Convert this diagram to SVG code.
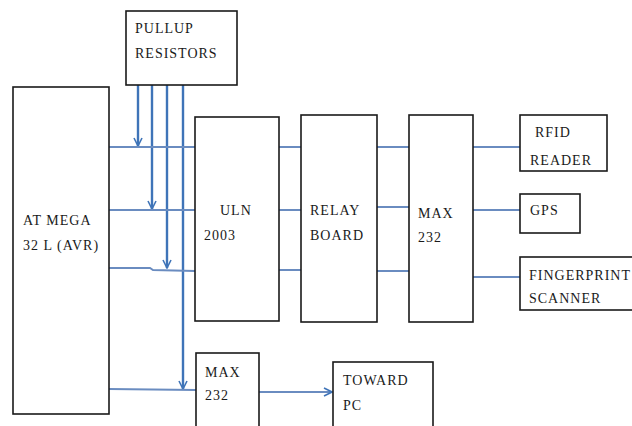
<svg xmlns="http://www.w3.org/2000/svg" width="632" height="426" viewBox="0 0 632 426">
<defs>
<style>
.box{fill:#fff;stroke:#1a1a1a;stroke-width:1.6}
.t{font-family:'Liberation Serif','DejaVu Serif',serif;font-size:14px;letter-spacing:1px;fill:#1a1a1a}
.v{stroke:#3f74b8;stroke-width:2.4;fill:none}
.h{stroke:#6a8cc0;stroke-width:2;fill:none}
</style>
<marker id="arr" viewBox="0 0 10 10" refX="9" refY="5" markerWidth="10" markerHeight="10" markerUnits="userSpaceOnUse" orient="auto">
<path d="M1,1 L9,5 L1,9" fill="none" stroke="#3f74b8" stroke-width="1.6"/>
</marker>
</defs>
<rect width="632" height="426" fill="#fff"/>
<g id="connectors">
<line class="v" x1="138" y1="85" x2="138" y2="146" marker-end="url(#arr)"/>
<line class="v" x1="152" y1="85" x2="152" y2="209" marker-end="url(#arr)"/>
<line class="v" x1="167" y1="85" x2="167" y2="268" marker-end="url(#arr)"/>
<line class="v" x1="183" y1="85" x2="183" y2="389" marker-end="url(#arr)"/>
<line class="h" x1="109" y1="147" x2="195" y2="147"/>
<line class="h" x1="109" y1="210" x2="195" y2="210"/>
<polyline class="h" points="109,268 150,268 153,270 195,271"/>
<line class="h" x1="109" y1="389" x2="196" y2="390"/>
<line class="h" x1="279" y1="147" x2="301" y2="147"/>
<line class="h" x1="279" y1="210" x2="301" y2="210"/>
<line class="h" x1="279" y1="270" x2="301" y2="270"/>
<line class="h" x1="377" y1="147" x2="409" y2="147"/>
<line class="h" x1="377" y1="207" x2="409" y2="207"/>
<line class="h" x1="377" y1="271" x2="409" y2="271"/>
<line class="h" x1="473" y1="147" x2="520" y2="147"/>
<line class="h" x1="473" y1="210" x2="520" y2="210"/>
<line class="h" x1="473" y1="277" x2="520" y2="277"/>
<line class="h" x1="259" y1="392" x2="332" y2="392" marker-end="url(#arr)"/>
</g>
<g id="pullup">
<rect class="box" x="126" y="11" width="111" height="74"/>
<text class="t" x="135" y="33">PULLUP</text>
<text class="t" x="135" y="58">RESISTORS</text>
</g>
<g id="atmega">
<rect class="box" x="13" y="87" width="96" height="327"/>
<text class="t" x="23" y="225">AT MEGA</text>
<text class="t" x="23" y="250">32 L (AVR)</text>
</g>
<g id="uln">
<rect class="box" x="195" y="117" width="84" height="204"/>
<text class="t" x="220" y="215">ULN</text>
<text class="t" x="204" y="240">2003</text>
</g>
<g id="relay">
<rect class="box" x="301" y="115" width="76" height="207"/>
<text class="t" x="310" y="215">RELAY</text>
<text class="t" x="310" y="240">BOARD</text>
</g>
<g id="max232a">
<rect class="box" x="409" y="115" width="64" height="207"/>
<text class="t" x="418" y="218">MAX</text>
<text class="t" x="418" y="242">232</text>
</g>
<g id="rfid">
<rect class="box" x="520" y="115" width="87" height="56"/>
<text class="t" x="535" y="137">RFID</text>
<text class="t" x="530" y="165">READER</text>
</g>
<g id="gps">
<rect class="box" x="520" y="194" width="60" height="39"/>
<text class="t" x="530" y="215">GPS</text>
</g>
<g id="fingerprint">
<rect class="box" x="520" y="257" width="130" height="53"/>
<text class="t" x="529" y="280">FINGERPRINT</text>
<text class="t" x="529" y="303">SCANNER</text>
</g>
<g id="max232b">
<rect class="box" x="196" y="353" width="63" height="90"/>
<text class="t" x="205" y="377">MAX</text>
<text class="t" x="205" y="400">232</text>
</g>
<g id="towardpc">
<rect class="box" x="333" y="362" width="100" height="90"/>
<text class="t" x="343" y="385">TOWARD</text>
<text class="t" x="343" y="410">PC</text>
</g>
</svg>
